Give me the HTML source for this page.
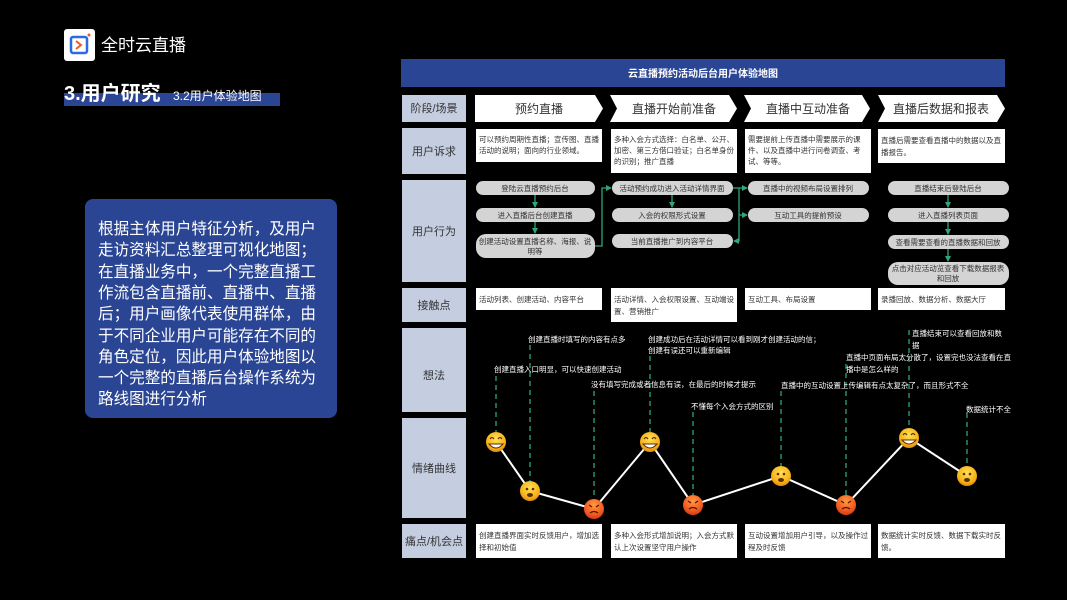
<!DOCTYPE html>
<html><head><meta charset="utf-8"><style>
html,body{margin:0;padding:0;background:#000;width:1067px;height:600px;overflow:hidden}
svg{display:block}
text{font-family:"Liberation Sans","Noto Sans CJK SC",sans-serif}
</style></head><body>
<svg width="1067" height="600" viewBox="0 0 1067 600" xmlns="http://www.w3.org/2000/svg">
<defs>
<radialGradient id="yel" cx="50%" cy="35%" r="65%"><stop offset="0" stop-color="#ffe05a"/><stop offset="0.7" stop-color="#f8b418"/><stop offset="1" stop-color="#e08a10"/></radialGradient>
<radialGradient id="red" cx="50%" cy="30%" r="70%"><stop offset="0" stop-color="#ff9a40"/><stop offset="0.7" stop-color="#f05a20"/><stop offset="1" stop-color="#d83a10"/></radialGradient>
<marker id="ar" markerWidth="6" markerHeight="6" refX="5" refY="3" orient="auto" markerUnits="userSpaceOnUse"><path d="M0,0 L6,3 L0,6 z" fill="#2fa67a"/></marker>
</defs>
<rect width="1067" height="600" fill="#000"/>
<!-- logo -->
<rect x="64" y="29" width="31" height="32" rx="3" fill="#fff"/>
<rect x="71" y="37" width="16" height="16" rx="2" fill="none" stroke="#2a6be0" stroke-width="2.5"/>
<path d="M76,41 L81,45 L76,49" fill="none" stroke="#f05a28" stroke-width="2"/>
<circle cx="89" cy="35" r="1.5" fill="#f05a28"/>
<text x="101" y="51" font-size="17" fill="#fff">全时云直播</text>
<!-- title -->
<rect x="64" y="93" width="216" height="13" fill="#2a4593"/>
<text x="64" y="100" font-size="20" fill="#fff" font-weight="bold">3.用户研究</text>
<text x="173" y="100" font-size="12" fill="#fff">3.2用户体验地图</text>
<!-- left card -->
<rect x="85" y="199" width="252" height="219" rx="8" fill="#2a4593"/>
<g font-size="16" fill="#fff">
<text x="98" y="234" textLength="218" lengthAdjust="spacingAndGlyphs">根据主体用户特征分析，及用户</text>
<text x="98" y="255" textLength="218" lengthAdjust="spacingAndGlyphs">走访资料汇总整理可视化地图；</text>
<text x="98" y="277" textLength="218" lengthAdjust="spacingAndGlyphs">在直播业务中，一个完整直播工</text>
<text x="98" y="298" textLength="218" lengthAdjust="spacingAndGlyphs">作流包含直播前、直播中、直播</text>
<text x="98" y="319" textLength="218" lengthAdjust="spacingAndGlyphs">后；用户画像代表使用群体，由</text>
<text x="98" y="341" textLength="218" lengthAdjust="spacingAndGlyphs">于不同企业用户可能存在不同的</text>
<text x="98" y="362" textLength="218" lengthAdjust="spacingAndGlyphs">角色定位，因此用户体验地图以</text>
<text x="98" y="383" textLength="218" lengthAdjust="spacingAndGlyphs">一个完整的直播后台操作系统为</text>
<text x="98" y="398" font-size="16" dy="6" textLength="109" lengthAdjust="spacingAndGlyphs">路线图进行分析</text>
</g>
<!-- banner -->
<rect x="401" y="59" width="604" height="28" fill="#2a4593"/>
<text x="703" y="77" font-size="10" fill="#fff" text-anchor="middle" font-weight="bold">云直播预约活动后台用户体验地图</text>
<!-- labels -->
<g fill="#c5cde0">
<rect x="402" y="95" width="64" height="27"/>
<rect x="402" y="128" width="64" height="46"/>
<rect x="402" y="180" width="64" height="102"/>
<rect x="402" y="288" width="64" height="34"/>
<rect x="402" y="328" width="64" height="84"/>
<rect x="402" y="418" width="64" height="100"/>
<rect x="402" y="524" width="64" height="34"/>
</g>
<g font-size="11" fill="#333" text-anchor="middle">
<text x="434" y="112">阶段/场景</text>
<text x="434" y="155">用户诉求</text>
<text x="434" y="235">用户行为</text>
<text x="434" y="309">接触点</text>
<text x="434" y="379">想法</text>
<text x="434" y="472">情绪曲线</text>
<text x="434" y="545">痛点/机会点</text>
</g>
<!-- stage arrows -->
<g fill="#fff">
<path d="M475,95 L595,95 L603,108.5 L595,122 L475,122 Z"/>
<path d="M610,95 L729,95 L737,108.5 L729,122 L610,122 L617,108.5 Z"/>
<path d="M744,95 L862,95 L870,108.5 L862,122 L744,122 L751,108.5 Z"/>
<path d="M878,95 L997,95 L1005,108.5 L997,122 L878,122 L885,108.5 Z"/>
</g>
<g font-size="12" fill="#333" text-anchor="middle">
<text x="539" y="113">预约直播</text>
<text x="674" y="113">直播开始前准备</text>
<text x="808" y="113">直播中互动准备</text>
<text x="941" y="113">直播后数据和报表</text>
</g>
<!-- demand boxes -->
<g fill="#fff">
<rect x="476" y="129" width="126" height="33"/>
<rect x="611" y="129" width="126" height="44"/>
<rect x="745" y="129" width="126" height="44"/>
<rect x="878" y="129" width="127" height="34"/>
</g>
<g font-size="7.5" fill="#333">
<text x="479" y="142">可以预约周期性直播；宣传图、直播</text>
<text x="479" y="153">活动的说明；面向的行业领域。</text>
<text x="614" y="142">多种入会方式选择：白名单、公开、</text>
<text x="614" y="153">加密、第三方借口验证；白名单身份</text>
<text x="614" y="164">的识别；推广直播</text>
<text x="748" y="142">需要提前上传直播中需要展示的课</text>
<text x="748" y="153">件、以及直播中进行问卷调查、考</text>
<text x="748" y="164">试、等等。</text>
<text x="881" y="143">直播后需要查看直播中的数据以及直</text>
<text x="881" y="155">播报告。</text>
</g>
<!-- behavior pills -->
<g fill="#d4d4d4">
<rect x="476" y="181" width="119" height="14" rx="7"/>
<rect x="476" y="208" width="119" height="14" rx="7"/>
<rect x="476" y="234" width="119" height="24" rx="10"/>
<rect x="612" y="181" width="121" height="14" rx="7"/>
<rect x="612" y="208" width="121" height="14" rx="7"/>
<rect x="612" y="234" width="121" height="14" rx="7"/>
<rect x="748" y="181" width="121" height="14" rx="7"/>
<rect x="748" y="208" width="121" height="14" rx="7"/>
<rect x="888" y="181" width="121" height="14" rx="7"/>
<rect x="888" y="208" width="121" height="14" rx="7"/>
<rect x="888" y="235" width="121" height="14" rx="7"/>
<rect x="888" y="262" width="121" height="23" rx="10"/>
</g>
<g font-size="7.5" fill="#333" text-anchor="middle">
<text x="535" y="191">登陆云直播预约后台</text>
<text x="535" y="218">进入直播后台创建直播</text>
<text x="535" y="244">创建活动设置直播名称、海报、说</text>
<text x="535" y="254">明等</text>
<text x="672" y="191">活动预约成功进入活动详情界面</text>
<text x="672" y="218">入会的权限形式设置</text>
<text x="672" y="244">当前直播推广到内容平台</text>
<text x="808" y="191">直播中的视频布局设置排列</text>
<text x="808" y="218">互动工具的提前预设</text>
<text x="948" y="191">直播结束后登陆后台</text>
<text x="948" y="218">进入直播列表页面</text>
<text x="948" y="245">查看需要查看的直播数据和回放</text>
<text x="948" y="271">点击对应活动览查看下载数据报表</text>
<text x="948" y="281">和回放</text>
</g>
<g stroke="#2fa67a" stroke-width="1.3" fill="none">
<line x1="535" y1="195" x2="535" y2="207" marker-end="url(#ar)"/>
<line x1="535" y1="222" x2="535" y2="233" marker-end="url(#ar)"/>
<path d="M595,246 L602,246 L602,188 L611,188" marker-end="url(#ar)"/>
<line x1="672" y1="195" x2="672" y2="207" marker-end="url(#ar)"/>
<line x1="733" y1="188" x2="747" y2="188" marker-end="url(#ar)"/>
<path d="M739,188 L739,241 L734,241" marker-end="url(#ar)"/>
<line x1="739" y1="215" x2="747" y2="215" marker-end="url(#ar)"/>
<line x1="948" y1="195" x2="948" y2="207" marker-end="url(#ar)"/>
<line x1="948" y1="222" x2="948" y2="234" marker-end="url(#ar)"/>
<line x1="948" y1="249" x2="948" y2="261" marker-end="url(#ar)"/>
</g>
<!-- touchpoints -->
<g fill="#fff">
<rect x="476" y="288" width="126" height="22"/>
<rect x="611" y="288" width="126" height="34"/>
<rect x="745" y="288" width="126" height="22"/>
<rect x="878" y="288" width="127" height="22"/>
</g>
<g font-size="7.5" fill="#333">
<text x="479" y="302">活动列表、创建活动、内容平台</text>
<text x="614" y="302">活动详情、入会权限设置、互动端设</text>
<text x="614" y="314">置、营销推广</text>
<text x="748" y="302">互动工具、布局设置</text>
<text x="881" y="302">录播回放、数据分析、数据大厅</text>
</g>
<!-- dashed lines -->
<g stroke="#2fa67a" stroke-width="1.3" stroke-dasharray="5,4">
<line x1="496" y1="376" x2="496" y2="432"/>
<line x1="530" y1="345" x2="530" y2="481"/>
<line x1="594" y1="391" x2="594" y2="499"/>
<line x1="650" y1="356" x2="650" y2="432"/>
<line x1="693" y1="412" x2="693" y2="495"/>
<line x1="781" y1="391" x2="781" y2="466"/>
<line x1="846" y1="364" x2="846" y2="495"/>
<line x1="909" y1="330" x2="909" y2="428"/>
<line x1="967" y1="413" x2="967" y2="466"/>
</g>
<g font-size="7.5" fill="#fff">
<text x="494" y="372">创建直播入口明显，可以快速创建活动</text>
<text x="528" y="342">创建直播时填写的内容有点多</text>
<text x="591" y="387">没有填写完成或者信息有误，在最后的时候才提示</text>
<text x="648" y="342">创建成功后在活动详情可以看到刚才创建活动的信；</text>
<text x="648" y="353">创建有误还可以重新编辑</text>
<text x="691" y="409">不懂每个入会方式的区别</text>
<text x="781" y="388">直播中的互动设置上传编辑有点太复杂了，而且形式不全</text>
<text x="846" y="360">直播中页面布局太分散了，设置完也没法查看在直</text>
<text x="846" y="372">播中是怎么样的</text>
<text x="912" y="336">直播结束可以查看回放和数</text>
<text x="912" y="348">据</text>
<text x="966" y="412">数据统计不全</text>
</g>
<!-- curve -->
<polyline points="496,442 530,491 594,509 650,442 693,505 781,476 846,505 909,438 967,476" fill="none" stroke="#fff" stroke-width="2"/>
<!-- emojis -->
<g id="happy">
<circle cx="496" cy="442" r="10" fill="url(#yel)"/>
<path d="M490,439 q2,-3 4,0 M498,439 q2,-3 4,0" stroke="#5a3000" stroke-width="1.2" fill="none"/>
<path d="M489,444 q7,8 14,0 z" fill="#fff" stroke="#5a3000" stroke-width="1"/>
</g>
<g>
<circle cx="650" cy="442" r="10" fill="url(#yel)"/>
<path d="M644,439 q2,-3 4,0 M652,439 q2,-3 4,0" stroke="#5a3000" stroke-width="1.2" fill="none"/>
<path d="M643,444 q7,8 14,0 z" fill="#fff" stroke="#5a3000" stroke-width="1"/>
<circle cx="909" cy="438" r="10" fill="url(#yel)"/>
<path d="M903,435 q2,-3 4,0 M911,435 q2,-3 4,0" stroke="#5a3000" stroke-width="1.2" fill="none"/>
<path d="M902,440 q7,8 14,0 z" fill="#fff" stroke="#5a3000" stroke-width="1"/>
</g>
<g fill="#5a3000">
<circle cx="530" cy="491" r="10" fill="url(#yel)"/>
<circle cx="527" cy="489" r="1.3"/><circle cx="533" cy="489" r="1.3"/>
<ellipse cx="530" cy="495" rx="3" ry="2"/>
<circle cx="781" cy="476" r="10" fill="url(#yel)"/>
<circle cx="778" cy="474" r="1.3"/><circle cx="784" cy="474" r="1.3"/>
<ellipse cx="781" cy="480" rx="3" ry="2"/>
<circle cx="967" cy="476" r="10" fill="url(#yel)"/>
<circle cx="964" cy="474" r="1.3"/><circle cx="970" cy="474" r="1.3"/>
<ellipse cx="967" cy="480" rx="3" ry="2"/>
</g>
<g stroke="#5a1000" stroke-width="1.2" fill="none">
<circle cx="594" cy="509" r="10" fill="url(#red)" stroke="none"/>
<path d="M589,505 l3,2 M599,505 l-3,2 M590,513 q4,-3 8,0"/>
<circle cx="693" cy="505" r="10" fill="url(#red)" stroke="none"/>
<path d="M688,501 l3,2 M698,501 l-3,2 M689,509 q4,-3 8,0"/>
<circle cx="846" cy="505" r="10" fill="url(#red)" stroke="none"/>
<path d="M841,501 l3,2 M851,501 l-3,2 M842,509 q4,-3 8,0"/>
</g>
<!-- pain boxes -->
<g fill="#fff">
<rect x="476" y="524" width="126" height="34"/>
<rect x="611" y="524" width="126" height="34"/>
<rect x="745" y="524" width="126" height="34"/>
<rect x="878" y="524" width="127" height="34"/>
</g>
<g font-size="7.5" fill="#333">
<text x="479" y="538">创建直播界面实时反馈用户，增加选</text>
<text x="479" y="550">择和初始值</text>
<text x="614" y="538">多种入会形式增加说明；入会方式默</text>
<text x="614" y="550">认上次设置坚守用户操作</text>
<text x="748" y="538">互动设置增加用户引导，以及操作过</text>
<text x="748" y="550">程及时反馈</text>
<text x="881" y="538">数据统计实时反馈、数据下载实时反</text>
<text x="881" y="550">馈。</text>
</g>
</svg>
</body></html>
